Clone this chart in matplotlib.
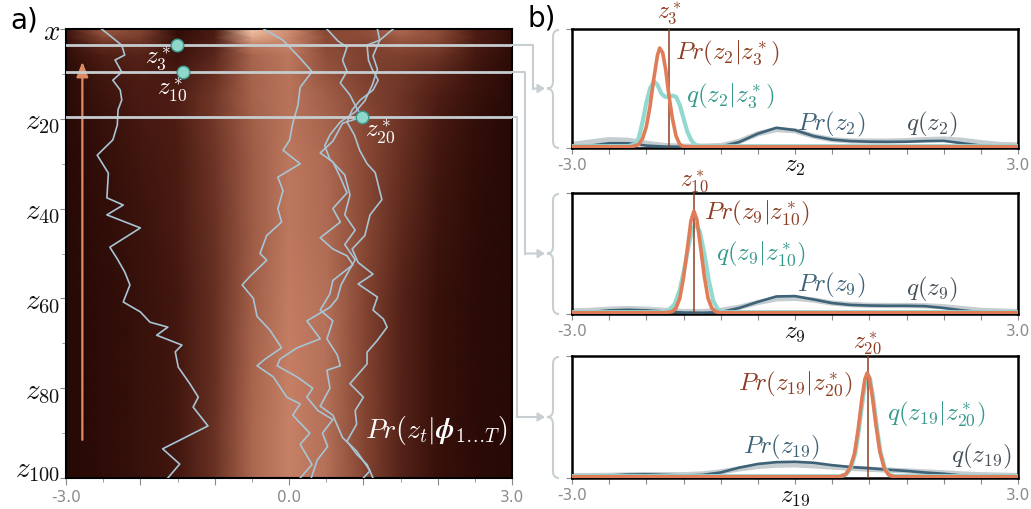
import numpy as np
import matplotlib
matplotlib.use("Agg")
import matplotlib.pyplot as plt
from matplotlib.colors import LinearSegmentedColormap
from matplotlib.lines import Line2D
from matplotlib.patches import PathPatch, FancyArrowPatch
from matplotlib.path import Path

plt.rcParams["mathtext.fontset"] = "cm"
plt.rcParams["font.family"] = ["DejaVu Sans"]

W, H = 1031, 509

# ---------------- data: left panel -----------------
hx = [-3, -2.5, -2, -1.5, -1, -0.5, 0, 0.5, 1, 1.5, 2, 2.5, 3]
ht = [0, 2, 4, 6, 10, 15, 20, 30, 45, 60, 75, 90, 100]
heat = [
    [0.15, 0.58, 0.48, 0.08, 0.22, 0.98, 0.80, 0.48, 0.52, 0.65, 0.52, 0.25, 0.10],
    [0.12, 0.48, 0.42, 0.10, 0.25, 0.88, 0.78, 0.50, 0.50, 0.58, 0.50, 0.25, 0.09],
    [0.10, 0.32, 0.34, 0.13, 0.27, 0.70, 0.75, 0.50, 0.45, 0.50, 0.44, 0.23, 0.08],
    [0.08, 0.25, 0.28, 0.15, 0.30, 0.63, 0.72, 0.52, 0.45, 0.45, 0.38, 0.20, 0.06],
    [0.05, 0.18, 0.25, 0.20, 0.35, 0.62, 0.70, 0.55, 0.45, 0.40, 0.30, 0.15, 0.05],
    [0.05, 0.15, 0.22, 0.25, 0.40, 0.62, 0.70, 0.60, 0.48, 0.38, 0.25, 0.12, 0.04],
    [0.04, 0.12, 0.20, 0.25, 0.40, 0.60, 0.70, 0.62, 0.50, 0.38, 0.22, 0.10, 0.03],
    [0.03, 0.10, 0.17, 0.23, 0.38, 0.58, 0.72, 0.65, 0.50, 0.35, 0.18, 0.08, 0.03],
    [0.03, 0.08, 0.14, 0.22, 0.36, 0.58, 0.72, 0.66, 0.50, 0.32, 0.15, 0.07, 0.03],
    [0.03, 0.07, 0.12, 0.19, 0.35, 0.60, 0.74, 0.68, 0.48, 0.28, 0.12, 0.06, 0.03],
    [0.03, 0.07, 0.12, 0.18, 0.35, 0.62, 0.75, 0.68, 0.48, 0.28, 0.12, 0.06, 0.03],
    [0.03, 0.07, 0.12, 0.18, 0.36, 0.64, 0.76, 0.68, 0.48, 0.28, 0.12, 0.06, 0.03],
    [0.03, 0.07, 0.12, 0.18, 0.36, 0.64, 0.76, 0.68, 0.48, 0.28, 0.12, 0.06, 0.03],
]

traj_t = [
    [0, 3.6, 5.8, 6.9, 9.6, 11.4, 13.6, 15.8, 18.0, 21.4, 24.7, 28.1, 32.1, 37.6, 39.2, 41.4,
     44.3, 48.6, 51.2, 54.1, 57.0, 60.8, 63.0, 65.3, 66.4, 68.2, 70.4, 71.9, 75.3, 79.1, 82.0,
     84.2, 88.4, 93.5, 96.9, 100],
    [0, 2.5, 6.5, 9.5, 13, 17, 21, 24.7, 27, 30, 33, 36, 40, 43, 46, 50, 51.5, 55, 57, 60, 64,
     67, 71, 73.5, 75, 77.5, 82, 83.5, 86, 90, 92.5, 97, 100],
    [0, 2.7, 4, 7, 9.4, 12, 14.7, 17.6, 19.6, 21, 25, 27.6, 29.6, 33, 36.5, 40, 43, 46.5, 49,
     50.5, 52.5, 56, 59, 62.6, 65, 69, 72.6, 75, 76, 80, 84, 86, 91, 94, 98.4, 100],
    [0, 2.5, 6, 9, 12.5, 16, 18.5, 20.7, 23.6, 26, 29, 32.5, 37, 41.4, 44.8, 48, 51.4, 54, 57,
     60, 62, 65, 69, 71, 73.5, 75, 77.5, 80, 82, 85, 87, 90, 93, 96, 100],
    [0, 2.5, 3.6, 7, 9, 11.4, 13.6, 15.8, 18, 20.7, 23.6, 27, 30, 32, 34.7, 38, 41.4, 46, 49,
     52, 54.6, 56.8, 59.7, 62.6, 64.6, 66.4, 69.3, 72, 74.6, 79, 82, 85, 88, 91.8, 94.7, 97, 100],
]
traj_x = [
    [-2.52, -2.25, -2.21, -2.34, -2.25, -2.37, -2.27, -2.25, -2.30, -2.31, -2.37, -2.58, -2.43,
     -2.45, -2.23, -2.45, -2.00, -2.41, -2.31, -2.21, -2.14, -2.23, -2.00, -1.87, -1.63, -1.78,
     -1.44, -1.53, -1.49, -1.33, -1.22, -1.29, -1.09, -1.70, -1.47, -1.63],
    [-0.34, -0.08, 0.15, 0.31, 0.15, 0.12, 0.05, 0.01, -0.08, 0.15, -0.15, -0.08, -0.15, -0.10,
     -0.30, -0.39, -0.30, -0.52, -0.63, -0.48, -0.43, -0.26, -0.10, -0.32, -0.43, -0.21, -0.03,
     0.15, 0.05, 0.28, 0.15, 0.31, 0.15],
    [0.51, 0.66, 0.78, 0.72, 0.78, 0.69, 0.82, 0.91, 0.98, 0.72, 0.59, 0.42, 0.59, 0.69, 0.78,
     0.59, 0.69, 0.42, 0.59, 0.78, 0.86, 0.59, 0.55, 0.42, 0.59, 0.51, 0.65, 0.69, 0.51, 0.55,
     0.42, 0.59, 0.72, 0.91, 1.09, 1.00],
    [1.19, 1.22, 1.13, 1.19, 1.12, 1.02, 0.89, 0.69, 0.55, 0.48, 0.55, 0.75, 0.82, 0.75, 0.89,
     0.75, 0.89, 0.80, 0.70, 0.65, 0.55, 0.24, 0.42, 0.11, -0.12, -0.16, 0.11, 0.32, 0.24, 0.39,
     0.59, 0.45, 0.52, 0.38, 0.30],
    [1.40, 1.22, 1.05, 1.07, 1.12, 1.20, 1.13, 0.96, 0.85, 0.78, 0.88, 0.95, 1.05, 1.16, 1.20,
     1.25, 1.09, 1.02, 0.85, 0.93, 1.13, 0.93, 1.19, 1.13, 1.27, 1.32, 1.19, 1.05, 1.05, 0.82,
     1.00, 0.89, 0.91, 0.78, 0.91, 1.05, 1.13],
]

cut_t = [3.5, 9.6, 19.6]
cut_x = [-1.51, -1.42, 0.98]
cut_names = ["$z_3^*$", "$z_{10}^*$", "$z_{20}^*$"]
tick_t = [0, 20, 40, 60, 80, 100]
tick_names = ["$x$", "$z_{20}$", "$z_{40}$", "$z_{60}$", "$z_{80}$", "$z_{100}$"]

# ---------------- data: right panels -----------------
zgrid = [-3, -2.75, -2.5, -2.25, -2, -1.75, -1.5, -1.25, -1, -0.75, -0.5, -0.25, 0,
         0.25, 0.5, 0.75, 1, 1.25, 1.5, 1.75, 2, 2.25, 2.5, 2.75, 3]

pr_marg = [
    [0.015, 0.02, 0.04, 0.04, 0.02, 0.012, 0.01, 0.01, 0.012, 0.05, 0.12, 0.17, 0.15,
     0.10, 0.07, 0.058, 0.053, 0.052, 0.053, 0.058, 0.06, 0.04, 0.02, 0.012, 0.01],
    [0.01, 0.015, 0.03, 0.035, 0.03, 0.02, 0.012, 0.01, 0.015, 0.05, 0.10, 0.145, 0.148,
     0.12, 0.09, 0.075, 0.07, 0.068, 0.068, 0.065, 0.05, 0.03, 0.015, 0.01, 0.01],
    [0.012, 0.015, 0.02, 0.028, 0.03, 0.025, 0.02, 0.025, 0.045, 0.085, 0.115, 0.13, 0.133,
     0.125, 0.105, 0.09, 0.08, 0.068, 0.058, 0.045, 0.035, 0.02, 0.012, 0.01, 0.01],
]
q_marg = [
    [0.03, 0.05, 0.07, 0.065, 0.04, 0.02, 0.015, 0.015, 0.02, 0.055, 0.12, 0.155, 0.145,
     0.10, 0.07, 0.06, 0.058, 0.058, 0.062, 0.07, 0.075, 0.065, 0.045, 0.03, 0.025],
    [0.025, 0.03, 0.04, 0.045, 0.04, 0.03, 0.02, 0.02, 0.03, 0.055, 0.095, 0.125, 0.13,
     0.115, 0.09, 0.078, 0.072, 0.07, 0.07, 0.068, 0.06, 0.045, 0.03, 0.025, 0.02],
    [0.02, 0.02, 0.022, 0.025, 0.028, 0.027, 0.027, 0.033, 0.05, 0.075, 0.095, 0.105, 0.108,
     0.10, 0.09, 0.08, 0.072, 0.065, 0.058, 0.05, 0.042, 0.033, 0.027, 0.023, 0.02],
]

pr_cond_x = [
    [-3, -2.2, -2.1, -2.05, -2.0, -1.95, -1.9, -1.85, -1.82, -1.78, -1.74, -1.7, -1.65, -1.6,
     -1.55, -1.5, -1.4, 3],
    [-3, -1.75, -1.65, -1.6, -1.55, -1.5, -1.45, -1.4, -1.36, -1.32, -1.27, -1.22, -1.17,
     -1.12, -1.07, -1.0, 3],
    [-3, 0.6, 0.68, 0.74, 0.8, 0.85, 0.9, 0.94, 0.97, 1.0, 1.04, 1.09, 1.14, 1.2, 1.26, 1.34, 3],
]
pr_cond_y = [
    [0.01, 0.01, 0.03, 0.08, 0.18, 0.35, 0.58, 0.78, 0.84, 0.80, 0.66, 0.46, 0.25, 0.10, 0.03,
     0.012, 0.01, 0.01],
    [0.01, 0.01, 0.02, 0.05, 0.13, 0.30, 0.53, 0.77, 0.85, 0.78, 0.55, 0.31, 0.13, 0.05, 0.02,
     0.01, 0.01],
    [0.01, 0.01, 0.03, 0.08, 0.20, 0.40, 0.65, 0.81, 0.86, 0.82, 0.67, 0.43, 0.22, 0.08, 0.025,
     0.01, 0.01],
]
q_cond_x = [
    [-3, -2.25, -2.15, -2.1, -2.05, -2.0, -1.95, -1.9, -1.85, -1.8, -1.75, -1.7, -1.65, -1.6,
     -1.55, -1.5, -1.45, -1.4, -1.35, -1.3, -1.2, 3],
    [-3, -1.78, -1.7, -1.62, -1.55, -1.48, -1.42, -1.37, -1.33, -1.28, -1.22, -1.16, -1.1,
     -1.04, -0.98, 3],
    [-3, 0.61, 0.69, 0.75, 0.81, 0.86, 0.91, 0.95, 0.98, 1.01, 1.05, 1.10, 1.15, 1.21, 1.27,
     1.35, 3],
]
q_cond_y = [
    [0.015, 0.015, 0.03, 0.09, 0.22, 0.38, 0.50, 0.56, 0.53, 0.46, 0.43, 0.43, 0.44, 0.43,
     0.36, 0.25, 0.14, 0.07, 0.03, 0.018, 0.015, 0.015],
    [0.015, 0.015, 0.03, 0.08, 0.20, 0.40, 0.60, 0.71, 0.74, 0.68, 0.50, 0.28, 0.11, 0.04,
     0.015, 0.015],
    [0.015, 0.015, 0.03, 0.08, 0.20, 0.40, 0.64, 0.80, 0.85, 0.81, 0.66, 0.42, 0.21, 0.08,
     0.025, 0.015, 0.015],
]
cond_at = [-1.69, -1.36, 0.98]
sub = ["2", "9", "{19}"]
star = ["3", "{10}", "{20}"]

# colours
C_OR = "#e07d58"
C_BR = "#8e3e22"
C_TE = "#93d9cf"
C_TET = "#35998c"
C_DB = "#3e6277"
C_LG = "#c5cdd0"
C_TRAJ = "#a7c5d5"
C_CONN = "#c8cfd3"
C_TICK = "#8a8a8a"

cmap = LinearSegmentedColormap.from_list(
    "brown", ["#220603", "#4e1d14", "#8a4a36", "#c47e64", "#f8cdb0"])


def fpx(x, y):
    return x / W, 1 - y / H


fig = plt.figure(figsize=(W / 100, H / 100), dpi=100)

# ---------------- left panel -----------------
axL = fig.add_axes([66 / W, 1 - 478 / H, 446 / W, 449 / H])
X, T = np.meshgrid(hx, ht)
axL.pcolormesh(X, T, np.array(heat), cmap=cmap, vmin=0, vmax=1, shading="gouraud",
               rasterized=True)
for tt, xx in zip(traj_t, traj_x):
    axL.plot(xx, tt, color=C_TRAJ, lw=1.2, zorder=3)
for ct in cut_t:
    axL.axhline(ct, color=C_LG, lw=2, zorder=4)
axL.plot(cut_x, cut_t, "o", ms=9, mfc="#8fd6cb", mec="#3c9b8d", mew=1, zorder=6)
axL.text(-1.76, 6.4, cut_names[0], color="white", fontsize=18, ha="center", va="center")
axL.text(-1.57, 13.4, cut_names[1], color="white", fontsize=18, ha="center", va="center")
axL.text(1.22, 22.8, cut_names[2], color="white", fontsize=18, ha="center", va="center")
axL.annotate("", xy=(-2.78, 7.3), xytext=(-2.78, 91.5),
             arrowprops=dict(arrowstyle="-|>,head_length=0.9,head_width=0.35",
                             color="#e08a64", lw=1.6, shrinkA=0, shrinkB=0))
axL.text(2.95, 89.5, r"$Pr(z_t|\boldsymbol{\phi}_{1\ldots T})$", color="white",
         fontsize=20, ha="right", va="center")
axL.set_xlim(-3, 3)
axL.set_ylim(100, 0)
axL.set_xticks(np.arange(-3, 3.01, 1.0))
axL.set_xticks(np.arange(-2.5, 3, 1.0), minor=True)
axL.set_xticklabels(["-3.0", "", "", "0.0", "", "", "3.0"])
axL.set_yticks(tick_t)
axL.set_yticks([10, 30, 50, 70, 90], minor=True)
axL.set_yticklabels(tick_names[:-1] + [""], fontsize=21)
# bottom label sits a little higher, clear of the x tick labels
axL.annotate(tick_names[-1], xy=(0, tick_t[-1]), xycoords=axL.get_yaxis_transform(),
             xytext=(-4, 6), textcoords="offset points", ha="right", va="center",
             fontsize=21, color="#111111", annotation_clip=False)
axL.tick_params(axis="x", which="both", colors=C_TICK, labelsize=11, length=5)
axL.tick_params(axis="x", which="minor", length=3)
axL.tick_params(axis="y", which="both", color=C_TICK, labelcolor="#111111", length=4, pad=0)
axL.tick_params(axis="y", which="minor", length=3)
for s in axL.spines.values():
    s.set_linewidth(1.5)
    s.set_color("black")

# ---------------- right panels -----------------
rpos = [(29, 148), (193, 314), (356, 478)]
lab_pr_cond = [(-1.61, 0.79, "left"), (-1.22, 0.83, "left"), (0.77, 0.77, "right")]
lab_q_cond = [(-1.47, 0.43, "left"), (-1.06, 0.49, "left"), (1.24, 0.52, "left")]
lab_pr = [(0.03, 0.2, "left"), (0.03, 0.24, "left"), (-0.70, 0.25, "left")]
lab_q = [(1.49, 0.2, "left"), (1.49, 0.2, "left"), (2.92, 0.18, "right")]
star_y = [1.13, 1.09, 1.10]
axR = []
for i, (y0, y1) in enumerate(rpos):
    ax = fig.add_axes([572 / W, 1 - y1 / H, 446 / W, (y1 - y0) / H])
    axR.append(ax)
    ax.plot(zgrid, q_marg[i], color=C_LG, lw=3.8, zorder=2, solid_capstyle="butt")
    ax.plot(zgrid, pr_marg[i], color=C_DB, lw=1.9, zorder=3)
    ax.plot(q_cond_x[i], q_cond_y[i], color=C_TE, lw=3.0, zorder=4)
    ax.axvline(cond_at[i], color=C_BR, lw=1.1, zorder=5)
    ax.plot(pr_cond_x[i], pr_cond_y[i], color=C_OR, lw=2.6, zorder=6)
    fs = 18
    x, y, ha = lab_pr_cond[i]
    ax.text(x, y, "$Pr(z_%s|z_%s^*)$" % (sub[i], star[i]), color=C_BR, fontsize=fs,
            ha=ha, va="center")
    x, y, ha = lab_q_cond[i]
    ax.text(x, y, "$q(z_%s|z_%s^*)$" % (sub[i], star[i]), color=C_TET, fontsize=fs,
            ha=ha, va="center")
    x, y, ha = lab_pr[i]
    ax.text(x, y, "$Pr(z_%s)$" % sub[i], color=C_DB, fontsize=fs, ha=ha, va="center")
    x, y, ha = lab_q[i]
    ax.text(x, y, "$q(z_%s)$" % sub[i], color="#46525a", fontsize=fs, ha=ha, va="center")
    ax.text(cond_at[i], star_y[i], "$z_%s^*$" % star[i], color=C_BR, fontsize=17,
            ha="center", va="center", transform=ax.get_xaxis_transform())
    ax.text(0.5, -0.05, "$z_%s$" % sub[i], color="#111111", fontsize=18, ha="center",
            va="top", transform=ax.transAxes)
    ax.set_xlim(-3, 3)
    ax.set_ylim(0, 1)
    ticks = np.arange(-3, 3.01, 0.5)
    ax.set_xticks(ticks)
    ax.set_xticklabels(["-3.0"] + [""] * (len(ticks) - 2) + ["3.0"])
    ax.set_yticks([0, 1])
    ax.set_yticklabels([])
    ax.tick_params(colors=C_TICK, labelsize=11, length=4)
    for s in ax.spines.values():
        s.set_linewidth(1.8)
        s.set_color("black")

# ---------------- connectors and braces -----------------
turn_x = [533, 525, 517]
for i, ct in enumerate(cut_t):
    yf = fig.transFigure.inverted().transform(axL.transData.transform((3, ct)))[1]
    ypx = (1 - yf) * H
    y0, y1 = rpos[i]
    ym = (y0 + y1) / 2
    xs, ys = zip(fpx(512, ypx), fpx(turn_x[i], ypx), fpx(turn_x[i], ym))
    fig.add_artist(Line2D(xs, ys, color=C_CONN, lw=1.5, transform=fig.transFigure))
    fig.add_artist(FancyArrowPatch(fpx(turn_x[i], ym), fpx(545, ym), transform=fig.transFigure,
                                   arrowstyle="-|>,head_length=4,head_width=2.5",
                                   color=C_CONN, lw=1.5, shrinkA=0, shrinkB=0))
    xt, xs_, xe = 547, 553, 559
    b0, b1 = y0 + 1, y1
    verts = [(xe, b0), (xs_, b0), (xs_, b0 + 7), (xs_, ym - 7), (xs_, ym), (xt, ym),
             (xs_, ym), (xs_, ym + 7), (xs_, b1 - 7), (xs_, b1), (xe, b1)]
    codes = [Path.MOVETO, Path.CURVE3, Path.CURVE3, Path.LINETO, Path.CURVE3, Path.CURVE3,
             Path.CURVE3, Path.CURVE3, Path.LINETO, Path.CURVE3, Path.CURVE3]
    verts = [fpx(vx, vy) for vx, vy in verts]
    fig.add_artist(PathPatch(Path(verts, codes), fc="none", ec=C_CONN, lw=1.5,
                             transform=fig.transFigure))

fig.text(10 / W, 1 - 20 / H, "a)", fontsize=20, va="center", ha="left")
fig.text(527 / W, 1 - 18 / H, "b)", fontsize=20, va="center", ha="left")

fig.savefig("out.png", dpi=100)
